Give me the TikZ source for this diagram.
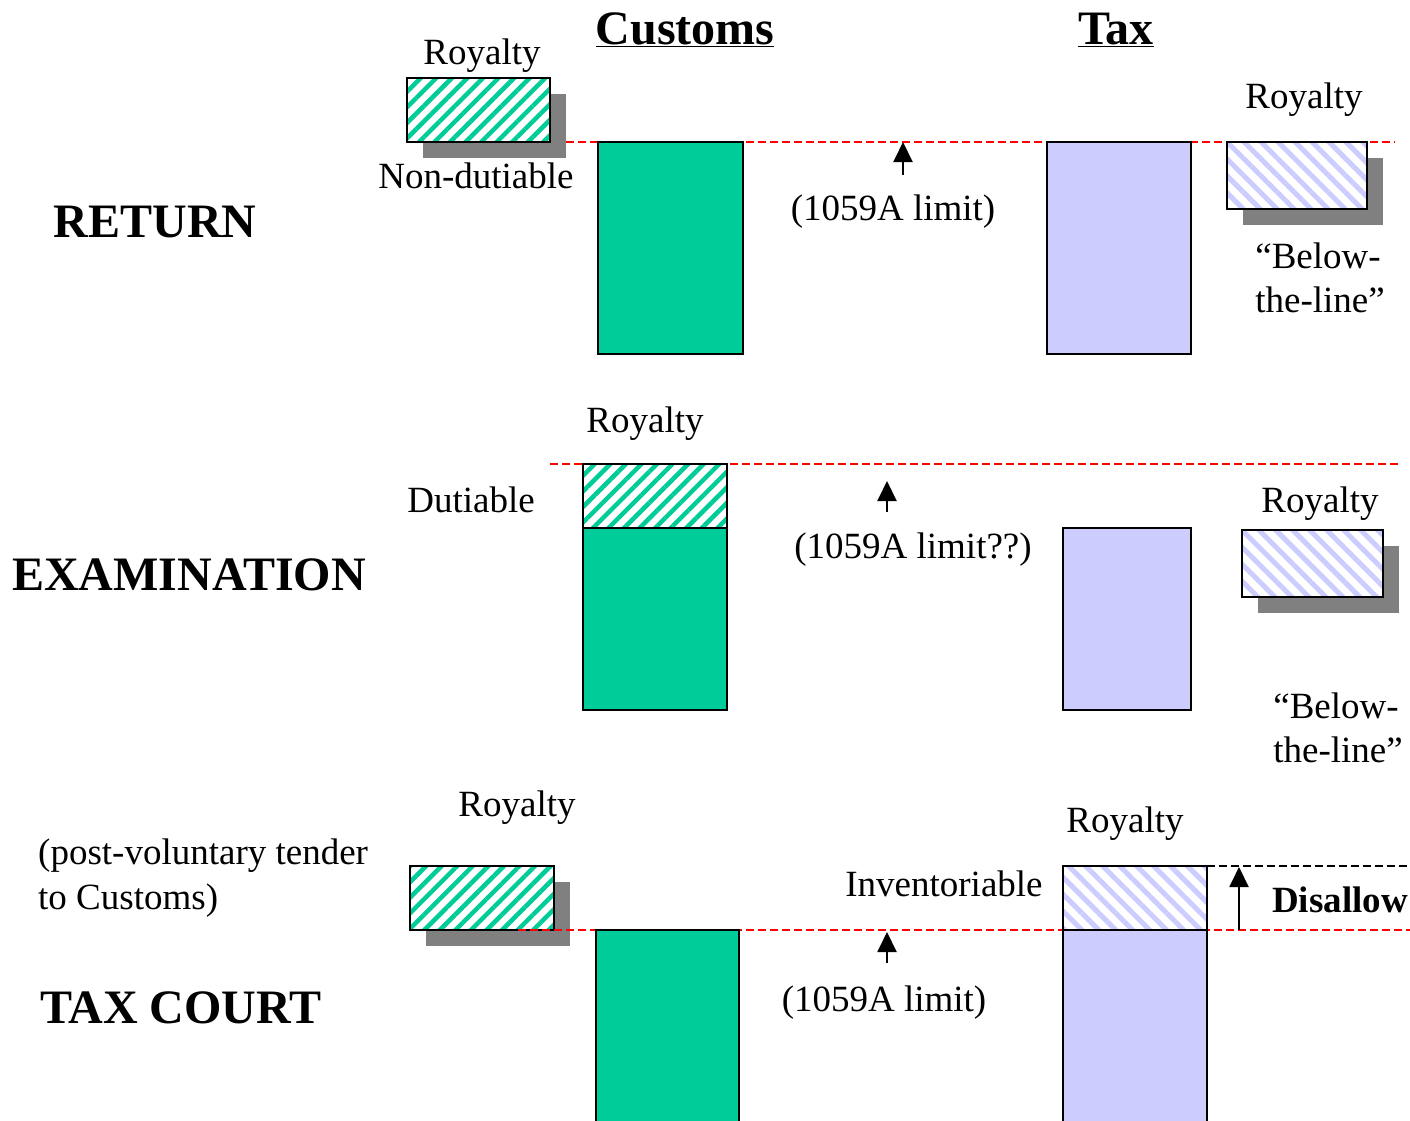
\documentclass[tikz,border=0pt]{standalone}
\usepackage{fontspec}
\setmainfont{Liberation Serif}
\usetikzlibrary{patterns.meta,arrows.meta}
\definecolor{cgreen}{HTML}{00CC99}
\definecolor{cblue}{HTML}{CCCCFF}
\definecolor{cshadow}{HTML}{808080}
\begin{document}
\begin{tikzpicture}[x=1pt,y=-1pt,
  box/.style={draw=black,line width=2pt,inner sep=0pt,outer sep=0pt},
  shadowbox/.style={fill=cshadow,inner sep=0pt,outer sep=0pt},
  greenbox/.style={box,fill=cgreen},
  bluebox/.style={box,fill=cblue},
  greenhatch/.style={box,preaction={fill=white},pattern={Lines[angle=45,distance=11pt,line width=4.5pt]},pattern color=cgreen},
  bluehatch/.style={box,preaction={fill=white},pattern={Lines[angle=-45,distance=12pt,line width=5pt]},pattern color=cblue},
  reddash/.style={draw=red,line width=1.5pt,dash pattern=on 8pt off 4pt},
  blackdash/.style={draw=black,line width=1.5pt,dash pattern=on 8pt off 4pt},
  arr/.style={draw=black,line width=2pt,-{Triangle[width=19pt,length=20pt]}},
  lbl/.style={font=\fontsize{37}{40}\selectfont,inner sep=0pt},
  big/.style={font=\fontsize{48}{50}\selectfont\bfseries,inner sep=0pt}]
\useasboundingbox (0,0) rectangle (1410,1121);
\fill[white] (0,0) rectangle (1410,1121);

% headings
\node[big] (hcust) at (685,30) {\underline{Customs}};
\node[big] (htax) at (1116,30) {\underline{Tax}};

% ---------- RETURN ----------
\node[big] (lret) at (155,222) {RETURN};
\node[shadowbox,minimum width=143pt,minimum height=64pt] (sh1) at (494.5,126) {};
\node[shadowbox,minimum width=140pt,minimum height=67pt] (sh2) at (1313,191.5) {};
\coordinate (r1a) at (566,142);
\coordinate (r1b) at (1395,142);
\draw[reddash] (r1a) -- (r1b);
\node[greenhatch,minimum width=143pt,minimum height=64pt] (roy1) at (478.5,110) {};
\node[greenbox,minimum width=145pt,minimum height=212pt] (cust1) at (670.5,248) {};
\node[bluebox,minimum width=144pt,minimum height=212pt] (tax1) at (1119,248) {};
\node[bluehatch,minimum width=140pt,minimum height=67pt] (troy1) at (1297,175.5) {};
\coordinate (a1s) at (903,175);
\coordinate (a1e) at (903,142);
\draw[arr] (a1s) -- (a1e);
\node[lbl] (t1a) at (482,56) {Royalty};
\node[lbl] (t1b) at (476,176) {Non-dutiable};
\node[lbl] (t1c) at (893,212) {(1059A limit)};
\node[lbl] (t1d) at (1304,100) {Royalty};
\node[lbl] (t1e) at (1318,256) {“Below-};
\node[lbl] (t1f) at (1320,300) {the-line”};

% ---------- EXAMINATION ----------
\node[big] (lexam) at (189,575) {EXAMINATION};
\node[shadowbox,minimum width=141pt,minimum height=67pt] (sh3) at (1328.5,579.5) {};
\coordinate (r2a) at (550,464);
\coordinate (r2b) at (1400,464);
\draw[reddash] (r2a) -- (r2b);
\node[greenhatch,minimum width=144pt,minimum height=64pt] (roy2) at (655,496) {};
\node[greenbox,minimum width=144pt,minimum height=182pt] (cust2) at (655,619) {};
\node[bluebox,minimum width=128pt,minimum height=182pt] (tax2) at (1127,619) {};
\node[bluehatch,minimum width=141pt,minimum height=67pt] (troy2) at (1312.5,563.5) {};
\coordinate (a2s) at (887,512);
\coordinate (a2e) at (887,481);
\draw[arr] (a2s) -- (a2e);
\node[lbl] (t2a) at (645,424) {Royalty};
\node[lbl] (t2b) at (471,500) {Dutiable};
\node[lbl] (t2c) at (913,550) {(1059A limit??)};
\node[lbl] (t2d) at (1320,504) {Royalty};
\node[lbl] (t2e) at (1336,706) {“Below-};
\node[lbl] (t2f) at (1338,750) {the-line”};

% ---------- TAX COURT ----------
\node[big,anchor=west] (ltax) at (40,1008) {TAX COURT};
\node[lbl,anchor=west] (t3p) at (38,856) {(post-voluntary tender};
\node[lbl,anchor=west] (t3q) at (38,901) {to Customs)};
\node[shadowbox,minimum width=144pt,minimum height=64pt] (sh4) at (498,914) {};
\node[greenhatch,minimum width=144pt,minimum height=64pt] (roy3) at (482,898) {};
\coordinate (r3a) at (518,930);
\coordinate (r3b) at (1410,930);
\draw[reddash] (r3a) -- (r3b);
\coordinate (k3a) at (1207,866);
\coordinate (k3b) at (1410,866);
\draw[blackdash] (k3a) -- (k3b);
\node[greenbox,minimum width=143pt,minimum height=195pt] (cust3) at (667.5,1027.5) {};
\node[bluehatch,minimum width=144pt,minimum height=64pt] (troy3) at (1135,898) {};
\node[bluebox,minimum width=144pt,minimum height=195pt] (tax3) at (1135,1027.5) {};
\coordinate (a3s) at (887,963);
\coordinate (a3e) at (887,932);
\draw[arr] (a3s) -- (a3e);
\coordinate (a4s) at (1239,930);
\coordinate (a4e) at (1239,867);
\draw[arr] (a4s) -- (a4e);
\node[lbl] (t3a) at (517,808) {Royalty};
\node[lbl] (t3b) at (884,1003) {(1059A limit)};
\node[lbl] (t3c) at (1125,824) {Royalty};
\node[lbl] (t3d) at (944,884) {Inventoriable};
\node[lbl,font=\fontsize{37}{40}\selectfont\bfseries] (t3e) at (1340,900) {Disallow};
\end{tikzpicture}
\end{document}
